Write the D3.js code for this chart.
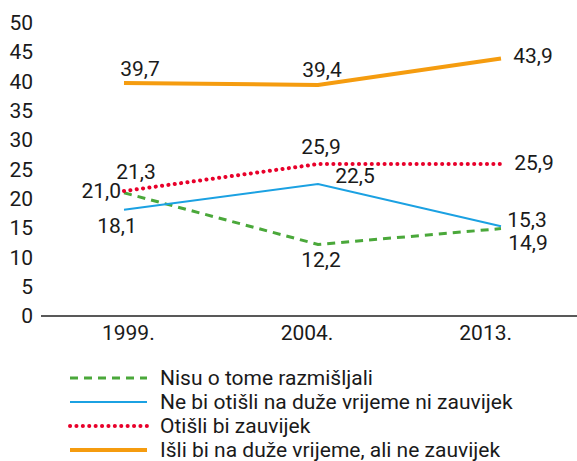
<!DOCTYPE html>
<html><head><meta charset="utf-8">
<script src="https://cdn.jsdelivr.net/npm/d3@7"></script>
<style>body{margin:0;background:#fff}svg{display:block}text{font-family:Roboto,sans-serif;fill:#1a1a1a}</style>
</head><body><svg id="c" width="577" height="461"></svg>
<script>
const years = ["1999.", "2004.", "2013."];
const yTicks = [0,5,10,15,20,25,30,35,40,45,50];
const seriesNames = ["Nisu o tome razmišljali","Ne bi otišli na duže vrijeme ni zauvijek","Otišli bi zauvijek","Išli bi na duže vrijeme, ali ne zauvijek"];
const nisu = [21.0, 12.2, 14.9];
const neBi = [18.1, 22.5, 15.3];
const otisli = [21.3, 25.9, 25.9];
const isli = [39.7, 39.4, 43.9];
const colors = ["#4aa83a","#1ba1e2","#e8002a","#f59c0f"];

const FS = 21;
const svg = d3.select("#c");
const y = d3.scaleLinear().domain([0,50]).range([316,22.7]);
const xAxisScale = d3.scalePoint().domain(years).range([41,577]).padding(0.5);
const xLine = d3.scaleLinear().domain([0,1,2]).range([124,318,501]);

// y tick labels
svg.append("g").selectAll("text").data(yTicks).join("text")
  .attr("x",33).attr("y",d=>y(d)).attr("dy","0.35em").attr("text-anchor","end")
  .attr("font-size",FS).text(d=>d);

// x axis line
svg.append("line").attr("x1",41).attr("x2",577).attr("y1",y(0)).attr("y2",y(0))
  .attr("stroke","#595959").attr("stroke-width",2);
svg.append("g").selectAll("text").data(years).join("text")
  .attr("x",d=>xAxisScale(d)-2).attr("y",y(0)+24).attr("text-anchor","middle")
  .attr("font-size",FS).text(d=>d);

const styles = [
  {w:3, dash:"8,6", cap:"butt"},
  {w:2, dash:null, cap:"butt"},
  {w:4, dash:"0.1,6.3", cap:"round"},
  {w:4, dash:null, cap:"butt"}
];
const data = [nisu, neBi, otisli, isli];
const line = d3.line().x((d,i)=>xLine(i)).y(d=>y(d));
data.forEach((s,k)=>{
  svg.append("path").attr("d",line(s)).attr("fill","none")
    .attr("stroke",colors[k]).attr("stroke-width",styles[k].w)
    .attr("stroke-dasharray",styles[k].dash).attr("stroke-linecap",styles[k].cap);
});

// value labels: offsets [dx, dy, anchor] per series per point
const fmt = v => v.toFixed(1).replace(".",",");
const offs = [
  [[-3,5,"end"],[3,23,"middle"],[27,21,"middle"]],
  [[-7,23,"middle"],[37,-1,"middle"],[26,1,"middle"]],
  [[12,-12,"middle"],[3,-10,"middle"],[33,6,"middle"]],
  [[16,-7,"middle"],[4,-8,"middle"],[32,5,"middle"]]
];
data.forEach((s,k)=>{
  svg.append("g").selectAll("text").data(s).join("text")
    .attr("x",(d,i)=>xLine(i)+offs[k][i][0])
    .attr("y",(d,i)=>y(d)+offs[k][i][1])
    .attr("text-anchor",(d,i)=>offs[k][i][2])
    .attr("font-size",FS).text(d=>fmt(d));
});

// legend
const lg = svg.append("g");
seriesNames.forEach((n,k)=>{
  const yy = 378 + k*24;
  lg.append("line").attr("x1",70).attr("x2",147).attr("y1",yy).attr("y2",yy)
    .attr("stroke",colors[k]).attr("stroke-width",styles[k].w)
    .attr("stroke-dasharray",styles[k].dash).attr("stroke-linecap",styles[k].cap);
  lg.append("text").attr("x",160).attr("y",yy).attr("dy","0.35em")
    .attr("font-size",FS).text(n);
});
</script></body></html>
